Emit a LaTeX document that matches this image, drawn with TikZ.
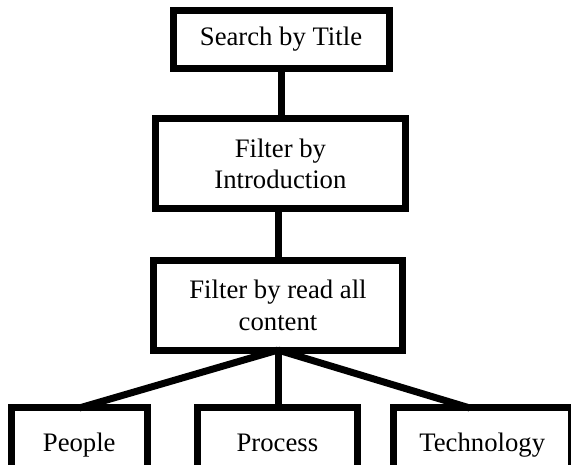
\documentclass[tikz,border=0pt]{standalone}
\usepackage{fontspec}
\setmainfont{Liberation Serif}
\usetikzlibrary{calc}
\begin{document}
\begin{tikzpicture}[x=1pt,y=1pt,
  box/.style={draw=black,line width=7pt,rectangle,outer sep=0pt,inner sep=0pt,
    align=center,font=\fontsize{26.7}{31.7}\selectfont},
  lbl/.style={font=\fontsize{26.7}{31.7}\selectfont,anchor=base,inner sep=0pt},
  link/.style={draw=black,line width=7pt}]
\useasboundingbox (0,0) rectangle (571,-465);
\begin{scope}
\clip (0,0) rectangle (571,-465);
\node[box,minimum width=216pt,minimum height=57.6pt] (title) at (281,-39.5) {Search by Title};
\node[box,minimum width=250pt,minimum height=90pt] (intro) at (280.4,-163.8) {Filter by\\Introduction};
\node[box,minimum width=249pt,minimum height=89.7pt] (content) at (278,-305.2) {Filter by read all\\content};
\node[box,minimum width=136.5pt,minimum height=64pt] (people) at (79.25,-440) {};
\node[box,minimum width=159.8pt,minimum height=64pt] (process) at (277.4,-440) {};
\node[box,minimum width=177.5pt,minimum height=64pt] (tech) at (482.25,-440) {};
\node[lbl] (tpeople) at (79.25,-451) {People};
\node[lbl] (tprocess) at (277.4,-451) {Process};
\node[lbl] (ttech) at (482.25,-451) {Technology};
\draw[link] (title.south) -- (title.south |- intro.north);
\draw[link] (intro.south -| content.north) -- (content.north);
\draw[link] (content.south) -- (people.north);
\draw[link] (content.south) -- (content.south |- process.north);
\draw[link] (content.south) -- ($(tech.north west)!0.43!(tech.north east)$);
\end{scope}
\end{tikzpicture}
\end{document}
